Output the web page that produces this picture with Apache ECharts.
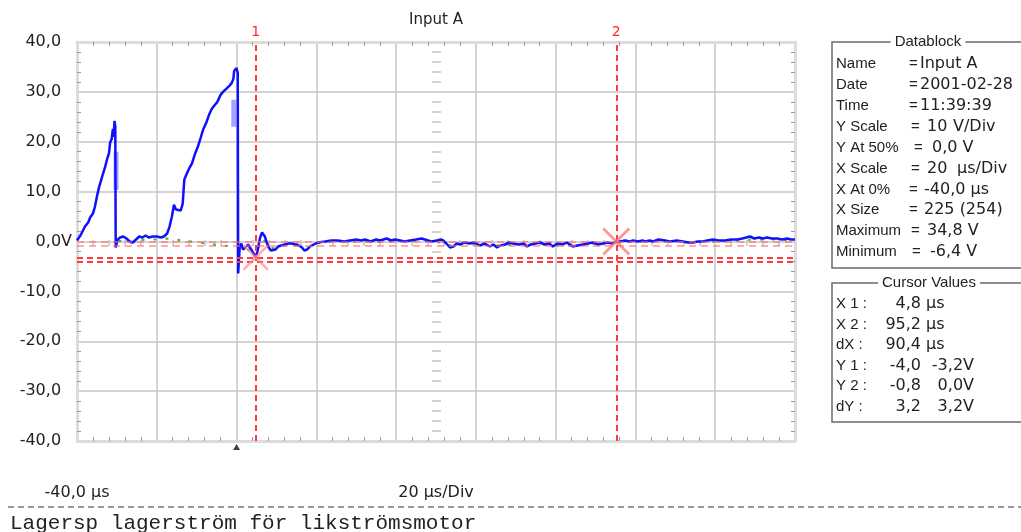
<!DOCTYPE html>
<html>
<head>
<meta charset="utf-8">
<title>Input A</title>
<script src="https://cdn.jsdelivr.net/npm/echarts/dist/echarts.min.js"></script>
<style>
  html, body { margin: 0; padding: 0; background: #fff; }
  #scope { width: 1021px; height: 532px; }
</style>
</head>
<body>
<div id="scope"></div>
<script>
// ---- Recorded trace, Input A (time in µs, voltage in V) ----
const timeUs = [
  -40.0, -39.0, -38.0, -37.2, -36.7, -36.0, -35.5, -34.9, -34.5, -33.7,
  -33.0, -32.5, -32.0, -31.7, -31.3, -31.0, -30.8, -30.6, -30.4, -30.3,
  -29.8, -29.2, -28.4, -27.6, -26.8, -26.0, -25.2, -24.4, -23.6, -22.8,
  -22.0, -21.0, -20.0, -19.0, -18.2, -17.4, -16.8, -16.2, -15.7, -15.2,
  -14.7, -14.0, -13.5, -13.1, -12.6, -11.9, -11.2, -10.4, -9.7, -9.0,
  -8.4, -7.6, -6.9, -6.2, -5.4, -4.8, -4.0, -3.4, -2.6, -1.8,
  -1.2, -0.8, -0.6, 0.0, 0.3, 0.4, 0.8, 1.2, 1.6, 2.2,
  2.9, 3.5, 4.1, 4.8, 5.3, 5.9, 6.4, 7.1, 7.9, 8.6,
  9.1, 9.8, 10.4, 11.2, 12.1, 13.0, 13.9, 14.6, 15.2, 16.4,
  17.0, 17.7, 18.4, 18.9, 20.4, 22.2, 23.8, 25.4, 27.0, 28.4,
  30.0, 31.2, 32.2, 33.6, 35.0, 36.0, 37.6, 38.8, 39.7, 41.0,
  42.2, 43.5, 45.0, 46.4, 47.2, 48.8, 50.2, 51.2, 51.8, 52.6,
  53.5, 54.4, 55.2, 56.0, 57.0, 58.5, 59.6, 61.0, 62.2, 63.5,
  64.4, 65.3, 66.2, 67.3, 68.4, 69.3, 70.8, 72.0, 72.8, 73.8,
  75.0, 76.1, 77.2, 78.4, 79.3, 80.4, 81.8, 82.8, 84.3, 85.4,
  86.9, 88.0, 89.4, 90.6, 91.9, 93.0, 94.2, 95.2, 96.1, 97.4,
  98.6, 99.4, 100.6, 101.8, 102.4, 103.6, 104.4, 105.8, 107.4, 108.6,
  110.4, 111.8, 113.2, 114.4, 115.6, 116.9, 118.0, 119.4, 120.8, 122.5,
  124.0, 125.5, 126.8, 127.8, 128.7, 129.8, 131.0, 132.0, 133.0, 134.2,
  135.5, 136.8, 138.0, 139.0, 140.0
];
const inputAVolts = [
  0.2, 1.4, 3.0, 3.8, 4.8, 5.6, 7.0, 9.4, 10.8, 13.0,
  14.8, 16.4, 17.6, 19.8, 20.6, 22.6, 21.0, 24.2, 23.0, -1.2,
  0.4, 0.8, 1.0, 0.6, 0.0, -0.2, 0.4, 1.0, 0.8, 1.2,
  0.8, 1.0, 1.0, 0.8, 1.0, 1.6, 3.0, 5.0, 7.4, 6.4,
  6.0, 6.2, 7.6, 12.4, 13.4, 14.6, 15.6, 17.6, 19.0, 20.8,
  22.4, 23.8, 25.4, 26.6, 27.4, 28.0, 29.4, 30.0, 30.6, 31.2,
  31.8, 32.6, 34.2, 34.8, 33.8, -6.4, -1.0, -0.4, -1.6, -1.2,
  -0.6, -1.4, -2.2, -3.2, -1.8, 0.8, 1.8, 1.0, -1.0, -1.8,
  -2.0, -1.6, -1.0, -0.8, -0.6, -0.4, -0.4, -0.6, -0.6, -1.2,
  -1.8, -1.6, -1.0, -0.6, -0.2, 0.0, 0.2, 0.2, 0.0, 0.2,
  0.4, 0.2, 0.4, 0.0, 0.4, 0.2, 0.6, 0.2, 0.4, 0.2,
  0.0, 0.2, 0.4, 0.6, 0.4, 0.0, 0.2, 0.4, 0.2, -0.4,
  -1.2, -1.0, -0.4, -0.6, -0.2, -0.4, -0.2, -0.8, -0.4, -1.0,
  -0.6, -1.2, -0.8, -0.6, -0.2, -0.4, -0.6, -0.4, -1.0, -0.6,
  -0.4, -0.2, -0.6, -0.4, -1.0, -0.4, -0.6, -0.2, -1.0, -0.8,
  -0.6, -0.4, -0.2, -0.6, -0.4, -0.2, -0.4, 0.0, 0.0, 0.2,
  0.0, 0.2, 0.0, 0.2, 0.0, 0.2, 0.0, 0.4, 0.2, 0.0,
  0.2, 0.0, -0.2, -0.2, 0.0, 0.0, 0.2, 0.4, 0.2, 0.2,
  0.4, 0.4, 0.6, 0.8, 1.0, 0.6, 0.8, 0.6, 0.8, 0.6,
  0.6, 0.4, 0.6, 0.4, 0.4
];

// Second (green) trace, mostly hidden under the blue one
const greenTimeUs = [
  -29.6, -27.0, -25.0, -22.0, -19.0, -17.5,
  0.6, 2.0, 3.0, 4.0, 4.8, 5.6, 6.6, 8.0, 10.0, 12.0, 15.0, 18.0, 20.0,
  25.0, 30.0, 35.0, 40.0, 45.0, 50.0, 53.0, 56.0, 60.0, 65.0, 70.0,
  75.0, 80.0, 85.0, 90.0, 95.0, 100.0, 105.0, 110.0, 115.0, 120.0,
  125.0, 130.0, 135.0, 140.0
];
const greenVolts = [
  0.2, -0.4, 0.2, 0.4, 0.4, 0.6,
  -1.2, -2.0, -1.6, -2.8, -3.4, -1.0, 0.6, -1.2, -1.4, -0.8, -0.8, -1.4, -0.4,
  0.0, 0.0, 0.0, 0.0, 0.2, 0.0, -0.8, -0.6, -0.6, -0.8, -0.6,
  -0.4, -0.8, -0.8, -0.4, -0.2, 0.0, 0.0, 0.0, -0.2, 0.0,
  0.2, 0.4, 0.4, 0.2
];

// Min/max envelope smears left by the fast edges: [time, vHigh, vLow]
const envelopeEdges = [
  [-30.2, 18.0, 10.4],
  [-0.7, 28.4, 23.0]
];

// Cursors: X1, X2 in µs; Y levels per cursor as [cursor, trace] in V
const cursorX = [4.8, 95.2];
const cursorLevels = [[-4.0, -3.2], [-0.8, 0.0]];
const triggerTimeUs = [0.0];

// Axis scales and tick labels
const X_MIN = -40, X_MAX = 140, X_DIV = 20;
const Y_MIN = -40, Y_MAX = 40, Y_DIV = 10;
const yTickValues = [-40, -30, -20, -10, 0, 10, 20, 30, 40];
const yTickText = ['-40,0', '-30,0', '-20,0', '-10,0', '0,0V', '10,0', '20,0', '30,0', '40,0'];
const xStartLabel = '-40,0 µs';
const xScaleLabel = '20 µs/Div';
const channelName = 'Input A';

// Datablock panel text: key, '=' position, then value pieces with their x
const datablockKeys = ['Name', 'Date', 'Time', 'Y Scale', 'Y At 50%', 'X Scale', 'X At 0%', 'X Size', 'Maximum', 'Minimum'];
const datablockEq = [909, 909, 909, 911, 914, 911, 909, 909, 911, 912];
const datablockValues = [
  [['Input A', 920]],
  [['2001-02-28', 920]],
  [['11:39:39', 920]],
  [['10', 927], ['V/Div', 953]],
  [['0,0 V', 932]],
  [['20', 927], ['µs/Div', 957]],
  [['-40,0 µs', 924]],
  [['225 (254)', 924]],
  [['34,8 V', 927]],
  [['-6,4 V', 930]]
];
const footerText = 'Lagersp lagerström för likströmsmotor';

// ---- helpers ----
const FONT = 'DejaVu Sans';
const LABEL_FONT = '15px "Liberation Sans"';
const VALUE_FONT = '16px "DejaVu Sans"';
const TEXT = '#222';
const fmt = v => v.toFixed(1).replace('.', ',');
const zip = (xs, ys) => xs.map((x, i) => [x, ys[i]]);

function panelText(x, y, text, font, align) {
  return {
    type: 'text', x: x, y: y, silent: true,
    style: { text: text, fill: TEXT, font: font, align: align || 'left', verticalAlign: 'middle' }
  };
}

function panelFrame(x, y, w, h, title, titleX) {
  return [
    { type: 'rect', silent: true, shape: { x: x, y: y, width: w, height: h },
      style: { fill: 'none', stroke: '#6a6a6a', lineWidth: 1.5 } },
    { type: 'text', x: titleX, y: y, silent: true,
      style: { text: title, fill: TEXT, font: LABEL_FONT, align: 'center', verticalAlign: 'middle',
               backgroundColor: '#fff', padding: [0, 4] } }
  ];
}

const graphics = [];
// Datablock panel
graphics.push(...panelFrame(832, 42, 200, 226, 'Datablock', 928));
datablockKeys.forEach((k, i) => {
  const y = 64 + i * 20.9;
  graphics.push(panelText(836, y, k, LABEL_FONT));
  graphics.push(panelText(datablockEq[i], y, '=', LABEL_FONT));
  datablockValues[i].forEach(([t, x]) => graphics.push(panelText(x, y, t, VALUE_FONT)));
});
// Cursor values panel
graphics.push(...panelFrame(832, 283, 200, 139, 'Cursor Values', 929));
const dX = cursorX[1] - cursorX[0];
const cursorRows = [
  ['X 1 :', fmt(cursorX[0]), 'µs'],
  ['X 2 :', fmt(cursorX[1]), 'µs'],
  ['dX :', fmt(dX), 'µs'],
  ['Y 1 :', fmt(cursorLevels[0][0]), fmt(cursorLevels[0][1]) + 'V'],
  ['Y 2 :', fmt(cursorLevels[1][0]), fmt(cursorLevels[1][1]) + 'V'],
  ['dY :', fmt(cursorLevels[1][0] - cursorLevels[0][0]), fmt(cursorLevels[1][1] - cursorLevels[0][1]) + 'V']
];
cursorRows.forEach((r, i) => {
  const y = 304 + i * 20.5;
  graphics.push(panelText(836, y, r[0], LABEL_FONT));
  graphics.push(panelText(921, y, r[1], VALUE_FONT, 'right'));
  if (r[2] === 'µs') graphics.push(panelText(926, y, r[2], VALUE_FONT));
  else graphics.push(panelText(974, y, r[2], VALUE_FONT, 'right'));
});
// Footer: dashed rule and comment line
graphics.push({ type: 'line', silent: true, shape: { x1: 8, y1: 507, x2: 1021, y2: 507 },
  style: { stroke: '#333', lineWidth: 1, lineDash: [6, 4] } });
graphics.push({ type: 'text', x: 10, y: 523, silent: true,
  style: { text: footerText, fill: '#222', font: '21px "Liberation Mono"', verticalAlign: 'middle' } });

// ---- axes ----
const frameLine = { show: true, onZero: false, lineStyle: { color: '#dcdcdc', width: 3 } };
const minor = { show: true, splitNumber: 5, length: 4, lineStyle: { color: '#9c9c9c', width: 1 } };
const grid = { show: true, lineStyle: { color: '#c6c6c6', width: 1.5 } };

function xAxisDef(extra) {
  return Object.assign({
    type: 'value', min: X_MIN, max: X_MAX, interval: X_DIV,
    axisLine: frameLine,
    axisTick: { show: false, inside: true },
    minorTick: minor,
    splitLine: { show: false },
    axisLabel: { show: false }
  }, extra);
}
function yAxisDef(extra) {
  return Object.assign({
    type: 'value', min: Y_MIN, max: Y_MAX, interval: Y_DIV,
    axisLine: frameLine,
    axisTick: { show: false, inside: true },
    minorTick: minor,
    splitLine: { show: false },
    axisLabel: { show: false }
  }, extra);
}

const option = {
  animation: false,
  backgroundColor: '#fff',
  textStyle: { fontFamily: FONT },
  grid: { left: 77, right: 226, top: 42, bottom: 91 },
  xAxis: [
    xAxisDef({
      position: 'bottom',
      splitLine: grid,
      axisLabel: {
        show: true, margin: 44, fontSize: 16, color: TEXT, fontFamily: FONT,
        formatter: v => (v === X_MIN ? xStartLabel : '')
      },
      name: xScaleLabel, nameLocation: 'middle', nameGap: 44, nameMoveOverlap: false,
      nameTextStyle: { fontSize: 16, color: TEXT, fontFamily: FONT }
    }),
    xAxisDef({
      position: 'top',
      name: channelName, nameLocation: 'middle', nameGap: 14,
      nameTextStyle: { fontSize: 15, color: TEXT, fontFamily: FONT }
    }),
    // centre graticule along the 0 V line
    xAxisDef({
      position: 'bottom', offset: -195,
      axisLine: { show: false, onZero: false },
      minorTick: { show: true, splitNumber: 5, length: 6, lineStyle: { color: '#c4c4c4', width: 1.5 } }
    })
  ],
  yAxis: [
    yAxisDef({
      position: 'left',
      splitLine: grid,
      axisLabel: {
        show: true, margin: 5, fontSize: 16, color: TEXT, fontFamily: FONT,
        formatter: v => {
          const t = yTickText[yTickValues.indexOf(v)] || '';
          return t.endsWith('V') ? t.slice(0, -1) + '{u|V}' : t + '{h|V}';
        },
        rich: {
          u: { fontSize: 16, color: TEXT, fontFamily: FONT },
          h: { fontSize: 16, color: 'rgba(0,0,0,0)', fontFamily: FONT }
        }
      }
    }),
    yAxisDef({ position: 'right' }),
    // centre graticule along the middle division
    yAxisDef({
      position: 'left', offset: -355,
      axisLine: { show: false, onZero: false },
      minorTick: { show: true, splitNumber: 5, length: 9, lineStyle: { color: '#c4c4c4', width: 1.5 } }
    })
  ],
  graphic: graphics,
  series: [
    {
      name: 'cursor-levels-2', type: 'line', z: 2, silent: true,
      data: [[cursorX[1], cursorLevels[1][1]]], symbol: 'none', lineStyle: { opacity: 0 },
      markLine: {
        silent: true, symbol: ['none', 'none'], label: { show: false },
        lineStyle: { color: '#ff6a6a', width: 2, type: [7, 5], opacity: 0.55 },
        data: cursorLevels[1].map(v => ({ yAxis: v }))
      }
    },
    {
      name: 'green', type: 'line', z: 3, silent: true,
      data: zip(greenTimeUs, greenVolts), symbol: 'none',
      lineStyle: { color: '#2fc42f', width: 2, type: [3, 9] }
    },
    ...envelopeEdges.map((e, i) => ({
      name: 'envelope-' + i, type: 'line', z: 3, silent: true, symbol: 'none',
      data: [[e[0], e[1]], [e[0], e[2]]],
      lineStyle: { color: '#a4a4ff', width: 5 }
    })),
    {
      name: channelName, type: 'line', z: 4, silent: true,
      data: zip(timeUs, inputAVolts), symbol: 'none',
      lineStyle: { color: '#1010ff', width: 2.5 }
    },
    {
      name: 'cursors', type: 'line', z: 5, silent: true,
      data: [[cursorX[0], cursorLevels[0][1]]], symbol: 'none', lineStyle: { opacity: 0 },
      markLine: {
        silent: true, symbol: ['none', 'none'],
        lineStyle: { color: '#ff3b3b', width: 2, type: [6, 4] },
        label: { show: true, position: 'end', color: '#ff2a2a', fontSize: 14, fontFamily: FONT, distance: 3 },
        data: [
          ...cursorX.map((x, i) => ({ xAxis: x, label: { formatter: String(i + 1) } })),
          ...cursorLevels[0].map(v => ({ yAxis: v, label: { show: false } }))
        ]
      }
    },
    {
      name: 'cursor-marks', type: 'scatter', z: 6, silent: true, clip: false,
      symbol: 'path://M0.7,0 L5,4.3 L9.3,0 L10,0.7 L5.7,5 L10,9.3 L9.3,10 L5,5.7 L0.7,10 L0,9.3 L4.3,5 L0,0.7 Z',
      data: [
        { value: [cursorX[0], cursorLevels[0][1]], symbolSize: 26, itemStyle: { color: '#ff8a8a', opacity: 0.7 } },
        { value: [cursorX[1], cursorLevels[1][1]], symbolSize: 28, itemStyle: { color: '#ff7b7b' } }
      ]
    },
    {
      name: 'trigger', type: 'scatter', z: 6, silent: true, clip: false,
      symbol: 'triangle', symbolSize: [7, 6], symbolOffset: [0, 6],
      itemStyle: { color: '#111' },
      data: triggerTimeUs.map(t => [t, Y_MIN])
    }
  ]
};

const chart = echarts.init(document.getElementById('scope'), null, { renderer: 'canvas' });
chart.setOption(option);
</script>
</body>
</html>
